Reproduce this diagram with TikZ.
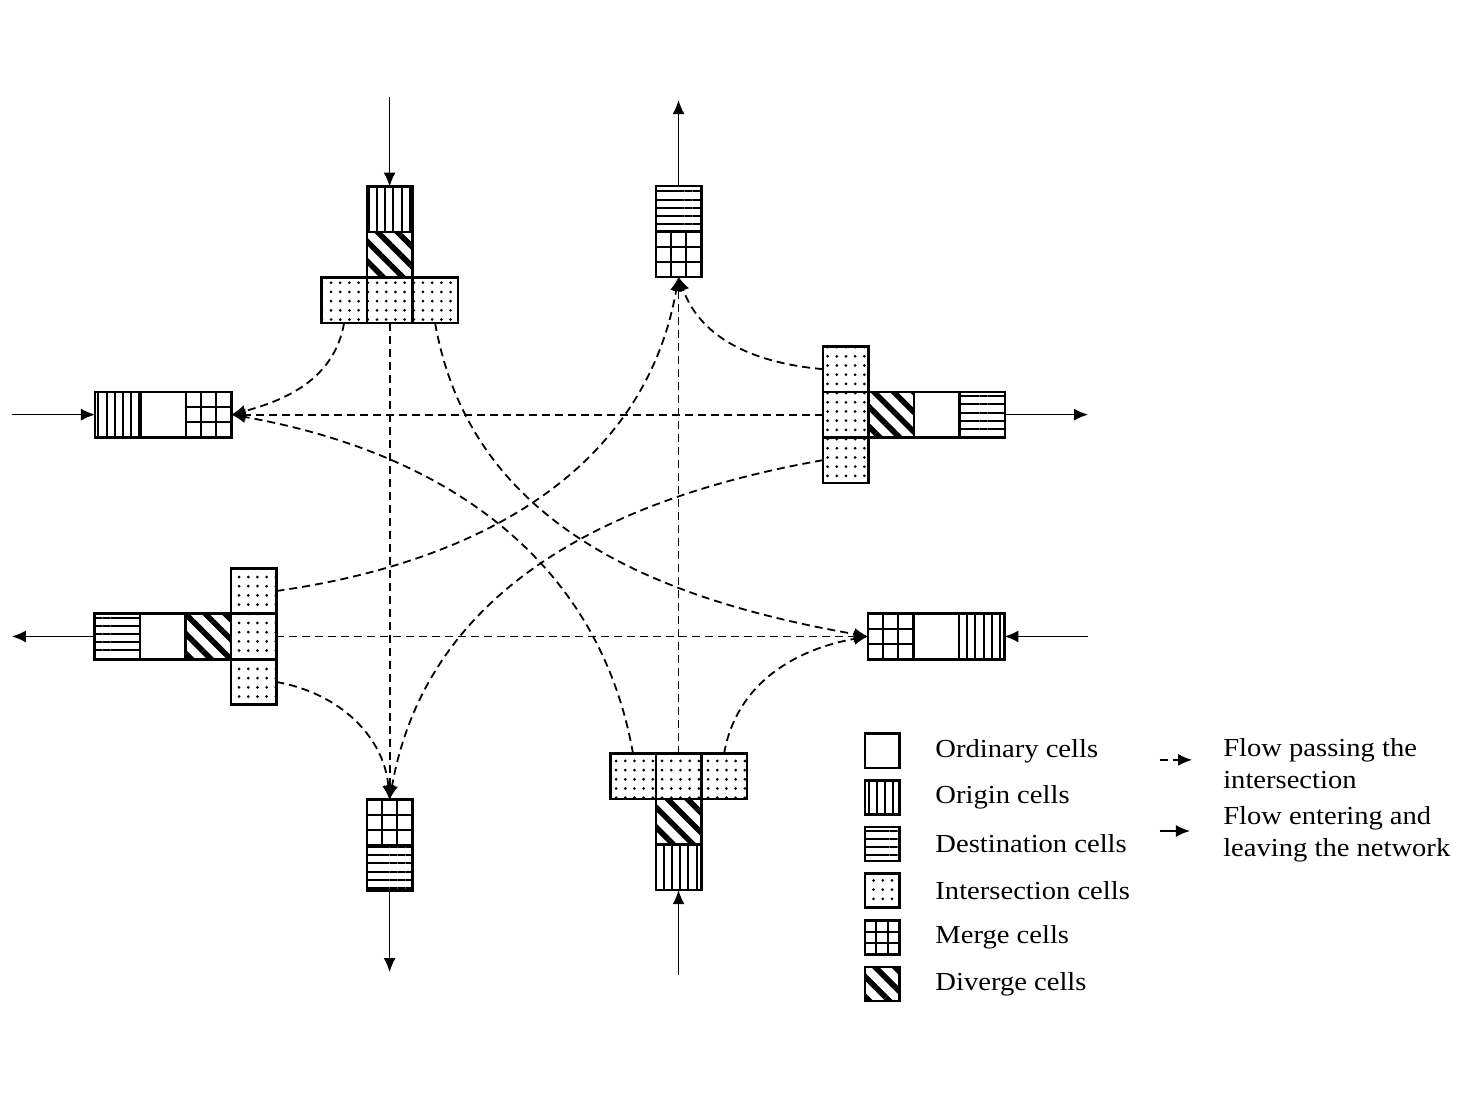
\documentclass[tikz,border=0pt]{standalone}
\usepackage{fontspec}
\setmainfont{Liberation Serif}[FakeStretch=1.1]
\usetikzlibrary{arrows.meta, positioning, patterns.meta, calc}
\tikzset{
	cell/.style={draw, line width=1.3pt, shape=rectangle, minimum size=0.8cm, inner sep=0pt, outer sep=0pt},
	ordinarycell/.style={cell},
	origincell/.style={cell, pattern={Lines[angle=90, distance=4.1pt, line width=1pt]}},
	destcell/.style={cell, pattern={Lines[angle=0, distance=4.1pt, line width=1pt]}},
	intercell/.style={cell, pattern={Dots[radius=0.75pt, distance=4.6pt]}},
	divergecell/.style={cell, pattern={Lines[angle=-45, distance=7pt, line width=2.8pt]}},
	mergecell/.style={cell, path picture={
		\foreach \f in {1,2}{
			\draw[line width=1pt]
			($(path picture bounding box.north west)!\f/3!(path picture bounding box.north east)$) --
			($(path picture bounding box.south west)!\f/3!(path picture bounding box.south east)$)
			($(path picture bounding box.north west)!\f/3!(path picture bounding box.south west)$) --
			($(path picture bounding box.north east)!\f/3!(path picture bounding box.south east)$);
		}}},
	legendbox/.style={minimum size=0.6cm},
	legendtext/.style={inner sep=0pt, font=\fontsize{13}{16.2}\selectfont},
	flow/.style={line width=0.9pt, dash pattern=on 4pt off 2.5pt, -{Latex[length=7pt, width=6pt]}},
	enter/.style={line width=0.75pt, -{Latex[length=7pt, width=6pt]}}
}

\begin{document}
\begin{tikzpicture}[node distance=0.8cm, on grid]
	\useasboundingbox (0,0) rectangle (25.81,-19.36);
	
	% North approach
	\node (nor) [origincell] at (6.85,-3.68) {};
	\node (ndv) [divergecell, below=of nor] {};
	\node (nim) [intercell, below=of ndv] {};
	\node (nil) [intercell, left=of nim] {};
	\node (nir) [intercell, right=of nim] {};
	\coordinate (nin) at (6.85,-1.71);
	
	% North exit
	\node (nem) [mergecell] at (11.93,-4.47) {};
	\node (ned) [destcell, above=of nem] {};
	\coordinate (neout) at (11.93,-1.76);
	
	% West, upper row
	\node (wum) [mergecell] at (3.67,-7.29) {};
	\node (wuo) [ordinarycell, left=of wum] {};
	\node (wuor) [origincell, left=of wuo] {};
	\coordinate (wuin) at (0.21,-7.29);
	
	% East approach
	\node (eim) [intercell] at (14.87,-7.29) {};
	\node (eit) [intercell, above=of eim] {};
	\node (eib) [intercell, below=of eim] {};
	\node (edv) [divergecell, right=of eim] {};
	\node (eo) [ordinarycell, right=of edv] {};
	\node (ed) [destcell, right=of eo] {};
	\coordinate (eout) at (19.13,-7.29);
	
	% West approach
	\node (wim) [intercell] at (4.46,-11.19) {};
	\node (wit) [intercell, above=of wim] {};
	\node (wib) [intercell, below=of wim] {};
	\node (wdv) [divergecell, left=of wim] {};
	\node (wo) [ordinarycell, left=of wdv] {};
	\node (wd) [destcell, left=of wo] {};
	\coordinate (wout) at (0.21,-11.19);
	
	% East, lower row
	\node (elm) [mergecell] at (15.66,-11.19) {};
	\node (elo) [ordinarycell, right=of elm] {};
	\node (elor) [origincell, right=of elo] {};
	\coordinate (elin) at (19.13,-11.19);
	
	% South exit
	\node (slm) [mergecell] at (6.85,-14.46) {};
	\node (sld) [destcell, below=of slm] {};
	\coordinate (slout) at (6.85,-17.09);
	
	% South approach
	\node (sim) [intercell] at (11.93,-13.65) {};
	\node (sil) [intercell, left=of sim] {};
	\node (sir) [intercell, right=of sim] {};
	\node (sdv) [divergecell, below=of sim] {};
	\node (sor) [origincell, below=of sdv] {};
	\coordinate (sin) at (11.93,-17.14);
	
	% Flows entering and leaving
	\draw [enter] (nin) -- (nor);
	\draw [enter] (ned) -- (neout);
	\draw [enter] (wuin) -- (wuor);
	\draw [enter] (ed) -- (eout);
	\draw [enter] (wd) -- (wout);
	\draw [enter] (elin) -- (elor);
	\draw [enter] (sld) -- (slout);
	\draw [enter] (sin) -- (sor);
	
	% Flows passing the intersection
	\draw [flow] (nil.south) to[out=-100, in=15] (wum.east);
	\draw [flow] (nim.south) -- (slm.north);
	\draw [flow] (nir.south) to[out=-80, in=170] (elm.west);
	\draw [flow] (eit.west) to[out=175, in=-70] (nem.south);
	\draw [flow] (eim.west) -- (wum.east);
	\draw [flow] (eib.west) to[out=190, in=80] (slm.north);
	\draw [flow] (wit.east) to[out=8, in=-100] (nem.south);
	\draw [flow] (wim.east) -- (elm.west);
	\draw [flow] (wib.east) to[out=-10, in=95] (slm.north);
	\draw [flow] (sil.north) to[out=100, in=-10] (wum.east);
	\draw [flow] (sim.north) -- (nem.south);
	\draw [flow] (sir.north) to[out=80, in=190] (elm.west);
	
	% Legend
	\node (lord) [ordinarycell, legendbox] at (15.51,-13.20) {};
	\node (lorg) [origincell, legendbox, below=0.82cm of lord] {};
	\node (ldst) [destcell, legendbox, below=0.82cm of lorg] {};
	\node (lint) [intercell, legendbox, below=0.82cm of ldst] {};
	\node (lmrg) [mergecell, legendbox, below=0.82cm of lint] {};
	\node (ldvg) [divergecell, legendbox, below=0.82cm of lmrg] {};
	\node (tord) [legendtext, right=0.93cm of lord, anchor=west] {Ordinary cells};
	\node (torg) [legendtext, right=0.93cm of lorg, anchor=west] {Origin cells};
	\node (tdst) [legendtext, right=0.93cm of ldst, anchor=west] {Destination cells};
	\node (tint) [legendtext, right=0.93cm of lint, anchor=west] {Intersection cells};
	\node (tmrg) [legendtext, right=0.93cm of lmrg, anchor=west] {Merge cells};
	\node (tdvg) [legendtext, right=0.93cm of ldvg, anchor=west] {Diverge cells};
	
	\coordinate (lfa) at (20.39,-13.36);
	\coordinate (lfb) at (20.96,-13.36);
	\coordinate (lea) at (20.39,-14.61);
	\coordinate (leb) at (20.92,-14.61);
	\draw [flow] (lfa) -- (lfb);
	\draw [enter] (lea) -- (leb);
	\node (tflow) [legendtext, align=left, anchor=west] at (21.50,-13.43) {Flow passing the\\intersection};
	\node (tenter) [legendtext, align=left, anchor=west] at (21.50,-14.67) {Flow entering and\\leaving the network};
	
\end{tikzpicture}
\end{document}
